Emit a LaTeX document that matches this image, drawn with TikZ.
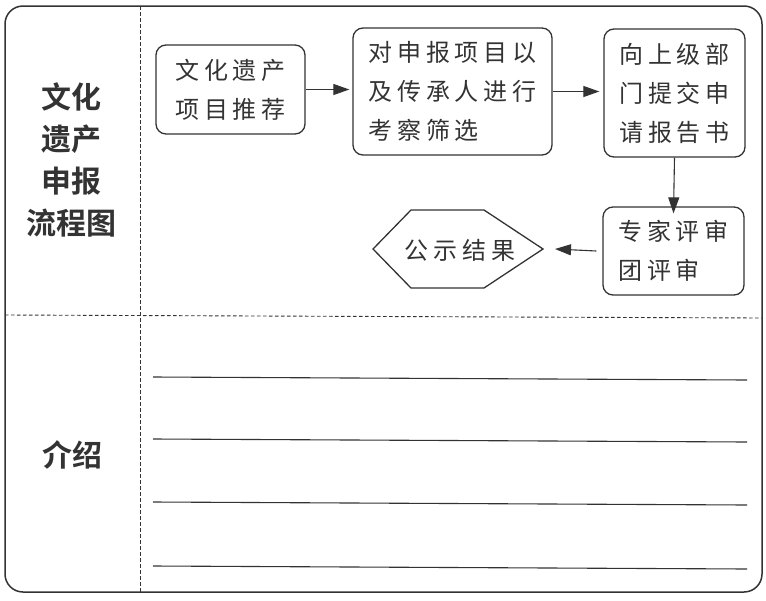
\documentclass[tikz,border=0pt]{standalone}
\usepackage{fontspec}
\newfontfamily\cjk[LetterSpace=20]{Noto Sans CJK SC}
\newfontfamily\cjkb[BoldFont={Noto Sans CJK SC Bold}]{Noto Sans CJK SC}
\usetikzlibrary{arrows.meta}
\definecolor{ink}{HTML}{333333}
\tikzset{
  stepbox/.style={draw=ink, line width=1.3pt, rounded corners=10pt, inner sep=0pt,
    text=ink, font=\cjk\fontsize{24}{39}\selectfont, align=left},
  arr/.style={draw=ink, line width=1.1pt, -{Triangle[length=16pt,width=11pt]}},
  dsh/.style={draw=ink, line width=0.9pt, dash pattern=on 3.5pt off 2.5pt},
  rule/.style={draw=ink, line width=1.1pt},
  lbl/.style={text=ink, font=\cjkb\bfseries\fontsize{30}{42}\selectfont, align=center, inner sep=0pt}
}
\begin{document}
\begin{tikzpicture}[x=1pt,y=-1pt]
\useasboundingbox (0,0) rectangle (766,600);
% outer frame
\draw[draw=ink, line width=1.5pt, rounded corners=18pt] (5,6) rectangle (762,592);
% dashed dividers
\draw[dsh] (140,6) -- (140,592);
\draw[dsh] (5,315) -- (762,318);
% left labels
\node[lbl] (title) at (72,160) {文化\\遗产\\申报\\流程图};
\node[lbl] (intro) at (72,455) {介绍};
% flow boxes
\node[stepbox, minimum width=149pt, minimum height=89pt] (b1) at (230.5,89.5) {文化遗产\\项目推荐};
\node[stepbox, minimum width=199pt, minimum height=127pt] (b2) at (452.5,91.5) {对申报项目以\\及传承人进行\\考察筛选};
\node[stepbox, minimum width=141pt, minimum height=128pt] (b3) at (674.5,93) {向上级部\\门提交申\\请报告书};
\node[stepbox, minimum width=141pt, minimum height=88pt] (b4) at (673.5,251) {专家评审\\团评审};
% hexagon
\coordinate (hL) at (373,249);
\coordinate (hTL) at (411,210);
\coordinate (hTR) at (484,210);
\coordinate (hR) at (543,249);
\coordinate (hBR) at (484,288);
\coordinate (hBL) at (411,288);
\draw[draw=ink, line width=1.3pt] (hL) -- (hTL) -- (hTR) -- (hR) -- (hBR) -- (hBL) -- cycle;
\node[text=ink, font=\cjk\fontsize{24}{39}\selectfont, inner sep=0pt] (hex) at (460,250) {公示结果};
% arrows
\draw[arr] (b1.east) -- ([xshift=-3pt]b2.west |- b1.east);
\draw[arr] (b2.east) -- ([xshift=-4pt]b3.west |- b2.east);
\draw[arr] (b3.south) -- ([yshift=-7pt]b4.north);
\draw[arr] ([xshift=-6pt]b4.west) -- ([xshift=12pt]hR);
% writing lines
\coordinate (l1a) at (153,377); \coordinate (l1b) at (747,380);
\coordinate (l2a) at (153,439); \coordinate (l2b) at (747,442);
\coordinate (l3a) at (153,502); \coordinate (l3b) at (747,505);
\coordinate (l4a) at (153,566); \coordinate (l4b) at (747,569);
\draw[rule] (l1a) -- (l1b);
\draw[rule] (l2a) -- (l2b);
\draw[rule] (l3a) -- (l3b);
\draw[rule] (l4a) -- (l4b);
\end{tikzpicture}
\end{document}
